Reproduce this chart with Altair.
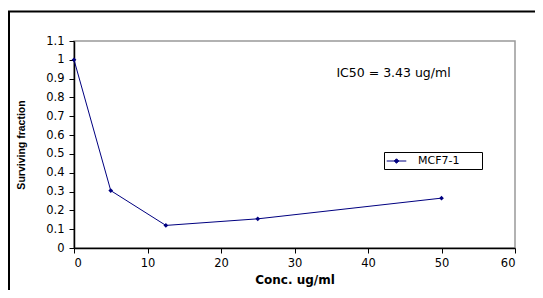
import altair as alt
import pandas as pd

conc = [0, 5, 12.5, 25, 50]
surviving = [1.0, 0.305, 0.12, 0.155, 0.265]
series_name = ["MCF7-1"] * 5
x_ticks = [0, 10, 20, 30, 40, 50, 60]
y_ticks = [0, 0.1, 0.2, 0.3, 0.4, 0.5, 0.6, 0.7, 0.8, 0.9, 1.0, 1.1]
annot_text = ["IC50 = 3.43 ug/ml"]
annot_x = [35.7]
annot_y = [0.93]

df = pd.DataFrame({"conc": conc, "sf": surviving, "series": series_name})
ann = pd.DataFrame({"conc": annot_x, "sf": annot_y, "t": annot_text})

NAVY = "#000080"
TICKFONT = "DejaVu Sans"

xaxis = alt.Axis(values=x_ticks, title="Conc. ug/ml", grid=False, labelOverlap=False,
                 tickSize=5, labelPadding=4, titlePadding=6,
                 titleFont="DejaVu Sans", titleFontSize=12, titleFontWeight="bold",
                 labelFont=TICKFONT, labelFontSize=11.5, labelColor="black",
                 titleColor="black", domainColor="black", tickColor="black",
                 domainWidth=1.5)
yaxis = alt.Axis(values=y_ticks, format=".1~f", title="Surviving fraction", grid=False,
                 labelOverlap=False,
                 tickSize=5, labelPadding=5, titlePadding=19,
                 titleFont="Liberation Sans", titleFontSize=10.5, titleFontWeight="bold",
                 labelFont=TICKFONT, labelFontSize=11.5, labelColor="black",
                 titleColor="black", domainColor="black", tickColor="black",
                 domainWidth=1.5)
xenc = alt.X("conc:Q", scale=alt.Scale(domain=[0, 60], nice=False), axis=xaxis)
yenc = alt.Y("sf:Q", scale=alt.Scale(domain=[0, 1.1], nice=False), axis=yaxis)

color = alt.Color("series:N", scale=alt.Scale(range=[NAVY]),
                  legend=alt.Legend(title=None, orient="none", legendX=310, legendY=111,
                                    padding=1.5,
                                    symbolType="M-1.4,0H1.4M0,-0.32L0.32,0L0,0.32L-0.32,0Z",
                                    symbolSize=196, symbolStrokeWidth=1,
                                    symbolFillColor=NAVY, symbolStrokeColor=NAVY,
                                    symbolOffset=3.5, labelOffset=14,
                                    labelFont="DejaVu Sans", labelFontSize=11, labelColor="black"))

line = alt.Chart(df).mark_line(strokeWidth=1, color=NAVY).encode(x=xenc, y=yenc, color=color)
pts = alt.Chart(df).mark_point(shape="diamond", filled=True, size=22, opacity=1, color=NAVY).encode(
    x=xenc, y=yenc, color=color)
text = alt.Chart(ann).mark_text(align="left", baseline="middle", font="DejaVu Sans",
                                fontSize=12.5, color="black").encode(
    x=xenc, y=yenc, text="t:N")
frame = alt.Chart(ann).mark_rect(fill=None, stroke="black", strokeWidth=2).encode(
    x=alt.value(-65), x2=alt.value(520), y=alt.value(-29.5), y2=alt.value(300))
legend_box = alt.Chart(ann).mark_rect(fill="white", stroke="black", strokeWidth=1).encode(
    x=alt.value(310.5), x2=alt.value(408.5), y=alt.value(111.5), y2=alt.value(128.5))

chart = alt.layer(frame, legend_box, line, pts, text).properties(
    width=441, height=207,
    autosize=alt.AutoSizeParams(type="none"),
    padding={"left": 66, "top": 33, "right": 20, "bottom": 42},
    background="white",
).configure_view(stroke="#999999", strokeWidth=1.5)

chart.save("out.html", embed_options={"renderer": "svg", "actions": False})
